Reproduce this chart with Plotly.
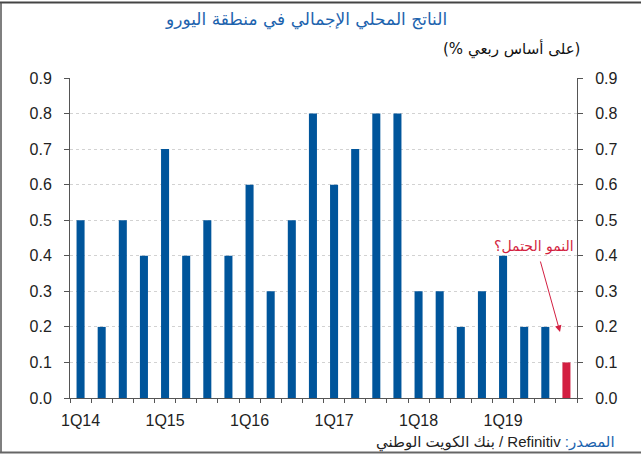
import plotly.graph_objects as go

quarters = [f"{q}Q{y}" for y in range(14, 20) for q in range(1, 5)]
gdp_qoq = [0.5, 0.2, 0.5, 0.4, 0.7, 0.4, 0.5, 0.4, 0.6, 0.3, 0.5, 0.8,
           0.6, 0.7, 0.8, 0.8, 0.3, 0.3, 0.2, 0.3, 0.4, 0.2, 0.2, 0.1]
tick_labels = [q if q.startswith("1Q") else "" for q in quarters]
y_ticks = [0.0, 0.1, 0.2, 0.3, 0.4, 0.5, 0.6, 0.7, 0.8, 0.9]

BLUE = "#00559B"
RED = "#D31F41"
TITLE_BLUE = "#1C63AE"
AX = "#555555"

colors = [BLUE] * (len(gdp_qoq) - 1) + [RED]

W, H = 641, 457
L, R, T, B = 70, 64, 78, 59
pw, ph = W - L - R, H - T - B


def px(x):
    return (x - L) / pw


def py(y):
    return (H - B - y) / ph


fig = go.Figure()
fig.add_trace(go.Bar(x=quarters, y=gdp_qoq, marker=dict(color=colors, line=dict(width=0)),
                     hoverinfo="skip", showlegend=False))
fig.add_trace(go.Scatter(x=[quarters[0]], y=[0], yaxis="y2", mode="markers",
                         marker=dict(opacity=0), hoverinfo="skip", showlegend=False))

tickfont = dict(family="Liberation Sans, Arial, sans-serif", size=16, color="#222222")

fig.update_layout(
    width=W, height=H,
    margin=dict(l=L, r=R, t=T, b=B, autoexpand=False),
    paper_bgcolor="white", plot_bgcolor="white",
    bargap=0.62,
    font=dict(family="Liberation Sans, DejaVu Sans, sans-serif"),
    xaxis=dict(type="category", tickvals=quarters, ticktext=tick_labels,
               tickson="boundaries", ticks="outside", ticklen=4, tickcolor=AX,
               showline=True, linecolor=AX, linewidth=1, showgrid=False,
               tickangle=0, automargin=False, ticklabelstandoff=8,
               tickfont=dict(family="Liberation Sans, Arial, sans-serif", size=16, color="#222222"),
               range=[-0.5, len(quarters) - 0.5]),
    yaxis=dict(range=[0, 0.9], tickvals=y_ticks, tickformat=".1f", ticks="outside",
               ticklen=5, tickcolor=AX, showline=True, linecolor=AX, linewidth=1,
               showgrid=True, gridcolor="#D2D2D2", griddash="dot", gridwidth=1,
               zeroline=False, tickfont=tickfont, ticklabelstandoff=9, automargin=False),
    yaxis2=dict(range=[0, 0.9], tickvals=y_ticks, tickformat=".1f", ticks="outside",
                ticklen=5, tickcolor=AX, showline=True, linecolor=AX, linewidth=1,
                overlaying="y", side="right", showgrid=False, zeroline=False,
                tickfont=tickfont, ticklabelstandoff=9, automargin=False),
)

# Frame lines around the picture (top, left, bottom)
fig.add_shape(type="line", xref="paper", yref="paper",
              x0=px(0), x1=px(641), y0=py(2.5), y1=py(2.5),
              line=dict(color="#444444", width=2))
fig.add_shape(type="line", xref="paper", yref="paper",
              x0=px(1), x1=px(1), y0=py(2.5), y1=py(452.5),
              line=dict(color="#555555", width=1.5))
fig.add_shape(type="line", xref="paper", yref="paper",
              x0=px(0), x1=px(641), y0=py(452.5), y1=py(452.5),
              line=dict(color="#666666", width=2))

ann = []
ann.append(dict(text="الناتج المحلي الإجمالي في منطقة اليورو", x=px(306), y=py(19),
                xanchor="center", yanchor="middle",
                font=dict(family="DejaVu Sans, sans-serif", size=17, color=TITLE_BLUE)))
ann.append(dict(text="(% على أساس ربعي)", x=px(582), y=py(49),
                xanchor="right", yanchor="middle",
                font=dict(family="DejaVu Sans, sans-serif", size=15, color="#111111")))
ann.append(dict(text="بنك الكويت الوطني / Refinitiv <span style='color:" + TITLE_BLUE + "'>:المصدر</span>",
                x=px(617), y=py(442), xanchor="right", yanchor="middle",
                font=dict(family="Liberation Sans, DejaVu Sans, sans-serif", size=15, color="#222222")))
ann.append(dict(text="النمو الحتمل؟", x=px(534), y=py(246),
                xanchor="center", yanchor="middle",
                font=dict(family="DejaVu Sans, sans-serif", size=14, color=RED)))
for a in ann:
    a.update(xref="paper", yref="paper", showarrow=False)
    fig.add_annotation(**a)

# Arrow pointing to the last (estimated) bar
fig.add_annotation(x=px(560), y=py(332), xref="paper", yref="paper",
                   ax=540 - 560, ay=260 - 332, axref="pixel", ayref="pixel",
                   showarrow=True, arrowhead=2, arrowsize=1.3, arrowwidth=1,
                   arrowcolor=RED, text="")

fig.write_html("out.html", config={"displayModeBar": False},
               post_script="document.body.style.margin='0px';document.body.style.overflow='hidden';")
